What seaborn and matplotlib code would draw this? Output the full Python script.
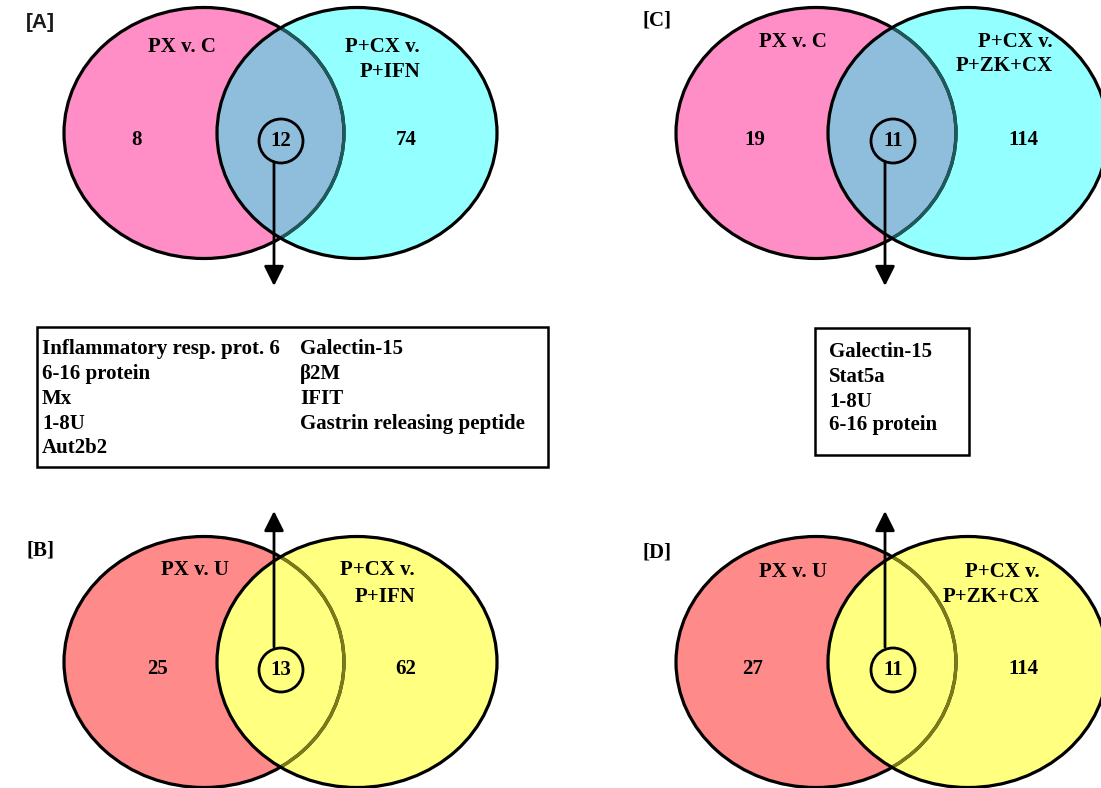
import matplotlib
matplotlib.use("Agg")
import matplotlib.pyplot as plt
from matplotlib.patches import Ellipse, Circle, Rectangle
import seaborn as sns

# Venn counts per panel
panel_tags = ["[A]", "[B]", "[C]", "[D]"]
left_only = [8, 25, 19, 27]
shared = [12, 13, 11, 11]
right_only = [74, 62, 114, 114]
left_names = ["PX v. C", "PX v. U", "PX v. C", "PX v. U"]
right_names = [["P+CX v.", "P+IFN"], ["P+CX v.", "P+IFN"],
               ["P+CX v.", "P+ZK+CX"], ["P+CX v.", "P+ZK+CX"]]

# Shared genes listed in the boxes
genes_ab_col1 = ["Inflammatory resp. prot. 6", "6-16 protein", "Mx", "1-8U", "Aut2b2"]
genes_ab_col2 = ["Galectin-15", "β2M", "IFIT", "Gastrin releasing peptide"]
genes_cd = ["Galectin-15", "Stat5a", "1-8U", "6-16 protein"]

sns.set_theme(style="white")
plt.rcParams["font.family"] = ["Liberation Serif", "DejaVu Serif"]

W, H = 1101, 788
fig = plt.figure(figsize=(W / 100, H / 100), dpi=100)
ax = fig.add_axes([0, 0, 1, 1])
ax.set_xlim(0, W)
ax.set_ylim(H, 0)
ax.set_aspect("auto")
ax.axis("off")

FS = 15
ew, eh = 280, 251

# layout of each panel: ellipse centres, ring and arrow positions, label anchors
layout = [
    dict(lx=204, rx=357, cy=133, cx=281, ax_=274, tag=(26, 22), tag_sans=True,
         lname=(182, 47), rname_x=420, rname_y=(47, 72),
         lnum=(136, 140), rnum=(406, 140), arrow=(162, 286),
         fills=("#FF8EC6", "#94FFFF", "#8FBEDC"), inner="#1E5A5C"),
    dict(lx=204, rx=357, cy=662, cx=281, ax_=274, tag=(26, 550), tag_sans=False,
         lname=(195, 570), rname_x=415, rname_y=(570, 597),
         lnum=(157, 669), rnum=(406, 669), arrow=(647, 511),
         fills=("#FF8A8A", "#FFFF80", "#FFFF80"), inner="#7A7A18"),
    dict(lx=816, rx=968, cy=133, cx=893, ax_=885, tag=(642, 20), tag_sans=False,
         lname=(793, 42), rname_x=1053, rname_y=(42, 66),
         lnum=(755, 140), rnum=(1023, 140), arrow=(162, 286),
         fills=("#FF8EC6", "#94FFFF", "#8FBEDC"), inner="#1E5A5C"),
    dict(lx=816, rx=968, cy=662, cx=893, ax_=885, tag=(642, 552), tag_sans=False,
         lname=(793, 572), rname_x=1040, rname_y=(572, 597),
         lnum=(753, 669), rnum=(1023, 669), arrow=(647, 511),
         fills=("#FF8A8A", "#FFFF80", "#FFFF80"), inner="#7A7A18"),
]

bold = dict(fontweight="bold", fontsize=FS, color="black")

for i, L in enumerate(layout):
    c_left, c_right, c_both = L["fills"]
    left = Ellipse((L["lx"], L["cy"]), ew, eh, facecolor=c_left, edgecolor="none", zorder=1)
    right = Ellipse((L["rx"], L["cy"]), ew, eh, facecolor=c_right, edgecolor="none", zorder=2)
    ax.add_patch(left)
    ax.add_patch(right)
    both = Ellipse((L["lx"], L["cy"]), ew, eh, facecolor=c_both, edgecolor="none", zorder=3)
    ax.add_patch(both)
    both.set_clip_path(right)

    # outlines: left arc inside the right set is drawn in a muted tone
    lo = Ellipse((L["lx"], L["cy"]), ew, eh, facecolor="none", edgecolor="black", lw=2.3, zorder=4)
    ax.add_patch(lo)
    clipper = Ellipse((L["rx"], L["cy"]), ew - 2, eh - 2, transform=ax.transData)
    lo_in = Ellipse((L["lx"], L["cy"]), ew, eh, facecolor="none", edgecolor=L["inner"], lw=2.4, zorder=5)
    ax.add_patch(lo_in)
    lo_in.set_clip_path(clipper)
    ax.add_patch(Ellipse((L["rx"], L["cy"]), ew, eh, facecolor="none", edgecolor="black", lw=2.3, zorder=6))

    # shared count ring and arrow
    ax.add_patch(Circle((L["cx"], L["cy"] + 8), 22, facecolor="none", edgecolor="black", lw=2.0, zorder=7))
    y0, y1 = L["arrow"]
    ax.annotate("", xy=(L["ax_"], y1), xytext=(L["ax_"], y0),
                arrowprops=dict(arrowstyle="-|>,head_length=0.8,head_width=0.4",
                                lw=2.0, color="black", mutation_scale=15,
                                shrinkA=0, shrinkB=0), zorder=8)

    ax.text(L["cx"], L["cy"] + 8, str(shared[i]), ha="center", va="center", zorder=9, **bold)
    ax.text(*L["lnum"], str(left_only[i]), ha="center", va="center", zorder=9, **bold)
    ax.text(*L["rnum"], str(right_only[i]), ha="center", va="center", zorder=9, **bold)
    ax.text(*L["lname"], left_names[i], ha="center", va="center", zorder=9, **bold)
    for line, yy in zip(right_names[i], L["rname_y"]):
        ax.text(L["rname_x"], yy, line, ha="right", va="center", zorder=9, **bold)

    if L["tag_sans"]:
        ax.text(*L["tag"], panel_tags[i], ha="left", va="center", fontweight="bold",
                fontsize=FS, color="#1a1a1a", family=["Liberation Sans", "DejaVu Sans"])
    else:
        ax.text(*L["tag"], panel_tags[i], ha="left", va="center", **bold)

# gene boxes
ax.add_patch(Rectangle((37, 327), 511, 140, facecolor="white", edgecolor="black", lw=1.8, zorder=1))
ax.add_patch(Rectangle((815, 328), 154, 127, facecolor="white", edgecolor="black", lw=1.8, zorder=1))
row_ab = [349, 374, 399, 423.5, 448]
row_cd = [352, 377, 401.5, 425]
for g, yy in zip(genes_ab_col1, row_ab):
    ax.text(42, yy, g, ha="left", va="center", **bold)
for g, yy in zip(genes_ab_col2, row_ab):
    ax.text(300, yy, g, ha="left", va="center", **bold)
for g, yy in zip(genes_cd, row_cd):
    ax.text(829, yy, g, ha="left", va="center", **bold)

fig.savefig("out.png", dpi=100, facecolor="white")
